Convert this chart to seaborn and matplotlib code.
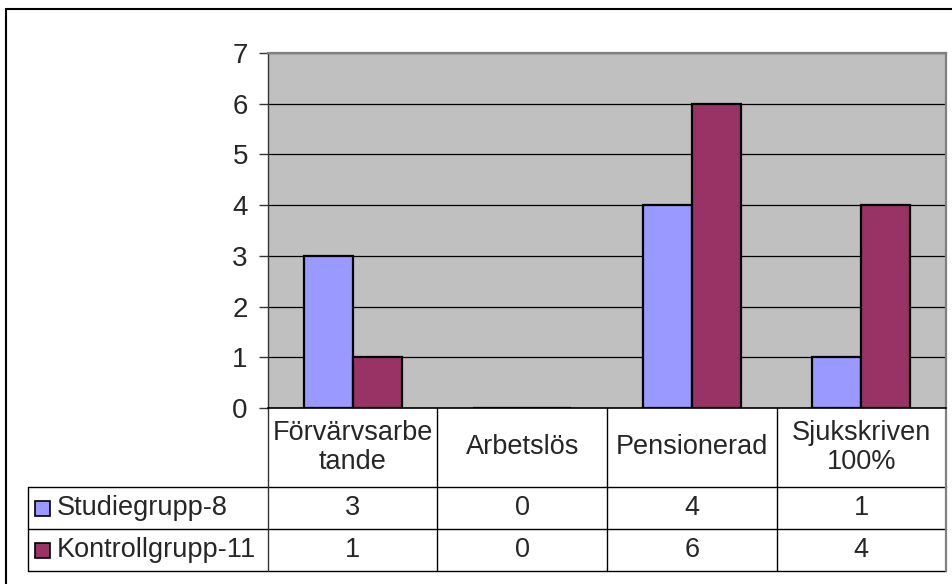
import matplotlib
matplotlib.use("Agg")
import matplotlib.pyplot as plt
import matplotlib.transforms as mtransforms
from matplotlib.lines import Line2D
from matplotlib.patches import Rectangle
import seaborn as sns
import pandas as pd

# Chart data
categories = ["Förvärvsarbe\ntande", "Arbetslös", "Pensionerad", "Sjukskriven\n100%"]
series_names = ["Studiegrupp-8", "Kontrollgrupp-11"]
studiegrupp = [3, 0, 4, 1]
kontrollgrupp = [1, 0, 6, 4]
y_ticks = [0, 1, 2, 3, 4, 5, 6, 7]
colors = ["#9999FF", "#993366"]

sns.set_style("white")
plt.rcParams["font.family"] = ["Liberation Sans", "DejaVu Sans"]
FS = 19.5

df = pd.DataFrame({
    "Kategori": categories * 2,
    "Grupp": [series_names[0]] * len(categories) + [series_names[1]] * len(categories),
    "Antal": studiegrupp + kontrollgrupp,
})
series_values = [studiegrupp, kontrollgrupp]

W, H = 953, 584
fig = plt.figure(figsize=(W / 100, H / 100), dpi=100)
fig.patch.set_facecolor("white")

# plot area in pixel geometry
px_left, px_right, px_top, px_bottom = 268, 946, 53, 408
ax = fig.add_axes([px_left / W, 1 - px_bottom / H,
                   (px_right - px_left) / W, (px_bottom - px_top) / H])

sns.barplot(data=df, x="Kategori", y="Antal", hue="Grupp", order=categories,
            hue_order=series_names, palette=colors, saturation=1, width=0.58,
            edgecolor="black", linewidth=1.6, legend=False, ax=ax)

ax.set_facecolor("#C0C0C0")
ax.set_xlim(-0.5, len(categories) - 0.5)
ax.set_ylim(0, 7)
ax.set_yticks(y_ticks)
ax.set_xticks([])
ax.set_xlabel("")
ax.set_ylabel("")
ax.yaxis.grid(True, color="black", linewidth=0.9)
ax.set_axisbelow(True)
ax.tick_params(axis="y", direction="out", length=6.5, width=1, color="#333333",
               labelsize=FS + 0.5, pad=8, left=True)
for side in ("top", "right"):
    ax.spines[side].set_color("#808080")
    ax.spines[side].set_linewidth(1.6)
ax.spines["left"].set_color("#333333")
ax.spines["left"].set_linewidth(1.0)
ax.spines["bottom"].set_color("black")
ax.spines["bottom"].set_linewidth(1.2)

# data table below the plot
ah = px_bottom - px_top
aw = px_right - px_left
rows_y = [0, -(487 - px_bottom) / ah, -(529 - px_bottom) / ah, -(571 - px_bottom) / ah]
legend_left = (28 - px_left) / aw
blend = mtransforms.blended_transform_factory(ax.transData, ax.transAxes)

line_kw = dict(color="black", linewidth=1.0, clip_on=False)
for y in rows_y[1:]:
    ax.add_line(Line2D([legend_left, 1], [y, y], transform=ax.transAxes, **line_kw))
ax.add_line(Line2D([0, 0], [0, rows_y[-1]], transform=ax.transAxes,
                   color="#333333", linewidth=1.0, clip_on=False))
ax.add_line(Line2D([legend_left, legend_left], [rows_y[1], rows_y[-1]],
                   transform=ax.transAxes, **line_kw))
ax.add_line(Line2D([1, 1], [0, rows_y[-1]], transform=ax.transAxes,
                   color="#808080", linewidth=1.6, clip_on=False))
for i in range(len(categories) - 1):
    ax.add_line(Line2D([i + 0.5, i + 0.5], [0, rows_y[-1]], transform=blend, **line_kw))

for i, cat in enumerate(categories):
    ax.text(i, (rows_y[0] + rows_y[1]) / 2, cat, transform=blend, ha="center",
            va="center", fontsize=FS, linespacing=1.15, clip_on=False)
    for r, vals in enumerate(series_values):
        ax.text(i, (rows_y[r + 1] + rows_y[r + 2]) / 2, str(vals[i]),
                transform=blend, ha="center", va="center", fontsize=FS, clip_on=False)

# legend keys inside the table
for r, (name, col) in enumerate(zip(series_names, colors)):
    yc = (rows_y[r + 1] + rows_y[r + 2]) / 2
    key_h = 15 / ah
    key_w = 15 / aw
    ax.add_patch(Rectangle(((35 - px_left) / aw, yc - key_h / 2), key_w, key_h,
                           transform=ax.transAxes, facecolor=col, edgecolor="black",
                           linewidth=1.2, clip_on=False))
    ax.text((57 - px_left) / aw, yc, name, transform=ax.transAxes, ha="left",
            va="center", fontsize=FS, clip_on=False)

# outer chart frame
fig.add_artist(Line2D([6 / W, 1], [1 - 9 / H, 1 - 9 / H], transform=fig.transFigure,
                      color="black", linewidth=1.5))
fig.add_artist(Line2D([6 / W, 6 / W], [1 - 9 / H, 0], transform=fig.transFigure,
                      color="black", linewidth=1.5))

fig.savefig("out.png", dpi=100)
